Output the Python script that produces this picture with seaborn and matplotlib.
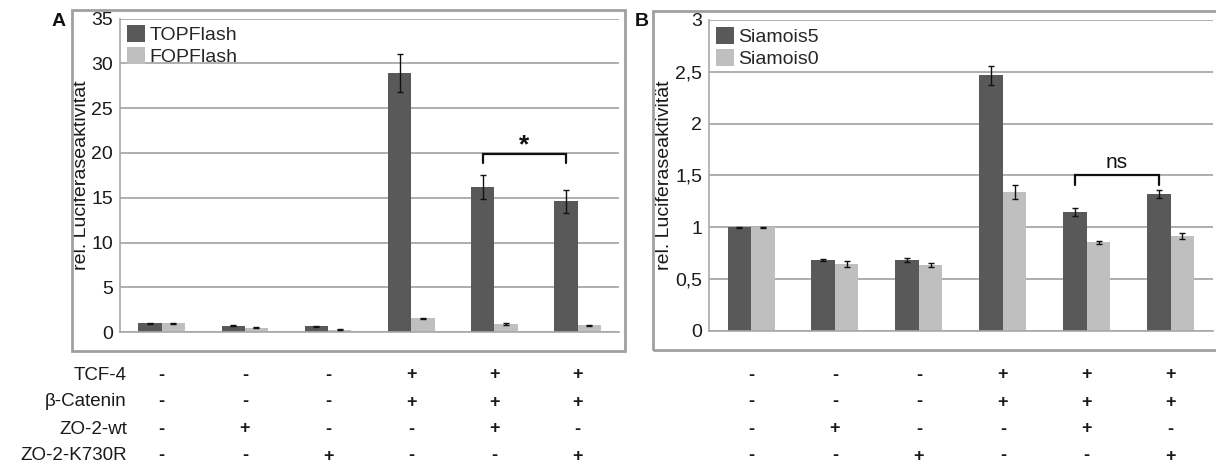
import matplotlib
matplotlib.use("Agg")
import matplotlib.pyplot as plt
import seaborn as sns
import pandas as pd
from matplotlib.patches import Rectangle
from matplotlib import transforms

# ---------------- data ----------------
conditions = ["K", "wt", "K730R", "TCF4+bCat", "TCF4+bCat+wt", "TCF4+bCat+K730R"]

series_a = ["TOPFlash", "FOPFlash"]
top_vals = [1.0, 0.74, 0.67, 28.9, 16.2, 14.6]
top_err = [0.05, 0.08, 0.07, 2.1, 1.35, 1.25]
fop_vals = [1.0, 0.51, 0.29, 1.56, 0.93, 0.78]
fop_err = [0.04, 0.04, 0.04, 0.08, 0.08, 0.06]

series_b = ["Siamois5", "Siamois0"]
s5_vals = [1.0, 0.685, 0.685, 2.465, 1.146, 1.32]
s5_err = [0.003, 0.01, 0.02, 0.09, 0.037, 0.037]
s0_vals = [1.0, 0.647, 0.637, 1.339, 0.856, 0.914]
s0_err = [0.003, 0.025, 0.02, 0.07, 0.013, 0.03]

yticks_a = [0, 5, 10, 15, 20, 25, 30, 35]
yticklabels_a = ["0", "5", "10", "15", "20", "25", "30", "35"]
yticks_b = [0, 0.5, 1, 1.5, 2, 2.5, 3]
yticklabels_b = ["0", "0,5", "1", "1,5", "2", "2,5", "3"]

row_labels = ["TCF-4", "β-Catenin", "ZO-2-wt", "ZO-2-K730R"]
row_marks = [
    ["-", "-", "-", "+", "+", "+"],
    ["-", "-", "-", "+", "+", "+"],
    ["-", "+", "-", "-", "+", "-"],
    ["-", "-", "+", "-", "-", "+"],
]
ylabel = "rel. Luciferaseaktivität"

# ---------------- style ----------------
sns.set_style("white")
plt.rcParams['font.family'] = ['Liberation Sans', 'DejaVu Sans']

DARK = "#595959"
LIGHT = "#bfbfbf"
GRID = "#a8a8a8"
TXT = "#1a1a1a"

fig = plt.figure(figsize=(12.16, 4.66), dpi=100)
ax_a = fig.add_axes([0.0987, 0.2869, 0.4106, 0.6734])
ax_b = fig.add_axes([0.5831, 0.2897, 0.4142, 0.6674])


def panel(ax, names, v1, v2, e1, e2, ymax, yt, ytl, label_x):
    df = pd.DataFrame({
        "cond": conditions * 2,
        "series": [names[0]] * len(conditions) + [names[1]] * len(conditions),
        "val": v1 + v2,
    })
    sns.barplot(data=df, x="cond", y="val", hue="series", order=conditions,
                hue_order=names, palette=[DARK, LIGHT], width=0.56, gap=0,
                errorbar=None, saturation=1, linewidth=0, ax=ax)
    conts = list(ax.containers)
    centers = []
    for cont, err in zip(conts, [e1, e2]):
        xs = [b.get_x() + b.get_width() / 2 for b in cont]
        ys = [b.get_height() for b in cont]
        centers.append(xs)
        ax.errorbar(xs, ys, yerr=err, fmt="none", ecolor="#111111",
                    elinewidth=1.0, capsize=2, capthick=1.0, zorder=4)
    ax.set_xlim(-0.5, len(conditions) - 0.5)
    ax.set_ylim(0, ymax)
    ax.set_yticks(yt)
    ax.set_yticklabels(ytl, fontsize=14, color=TXT)
    ax.set_xticks([i + 0.5 for i in range(-1, len(conditions))])
    ax.set_xticklabels([])
    ax.set_xlabel("")
    ax.set_ylabel(ylabel, fontsize=14, color=TXT)
    ax.yaxis.set_label_coords(label_x, 0.5)
    ax.tick_params(axis="y", length=4, width=1, color=GRID, pad=1)
    ax.tick_params(axis="x", length=4, width=1, color=GRID, direction="out")
    ax.yaxis.grid(True, color=GRID, lw=1.3)
    ax.set_axisbelow(True)
    for s in ["top", "right"]:
        ax.spines[s].set_visible(False)
    for s in ["left", "bottom"]:
        ax.spines[s].set_color(GRID)
        ax.spines[s].set_linewidth(1.2)
    handles, labels = ax.get_legend_handles_labels()
    if ax.get_legend() is not None:
        ax.get_legend().remove()
    ax.legend(handles, labels, loc="upper left", frameon=False, fontsize=14,
              handlelength=0.95, handleheight=0.95, handletextpad=0.2,
              labelspacing=0.15, borderaxespad=0.0, borderpad=0.35)
    return centers


cen_a = panel(ax_a, series_a, top_vals, fop_vals, top_err, fop_err, 35,
              yticks_a, yticklabels_a, (90 - 120) / 499.3)
cen_b = panel(ax_b, series_b, s5_vals, s0_vals, s5_err, s0_err, 3,
              yticks_b, yticklabels_b, (673 - 709) / 503.7)

# significance brackets
xa0, xa1 = cen_a[0][4], cen_a[0][5]
ax_a.plot([xa0, xa0, xa1, xa1], [18.9, 19.9, 19.9, 18.9], color="#111111",
          lw=1.6, solid_joinstyle="miter", zorder=5)
ax_a.text((xa0 + xa1) / 2, 20.1, "*", ha="center", va="baseline",
          fontsize=19, fontweight="bold", color="#111111")

xb0, xb1 = cen_b[0][4], cen_b[0][5]
ax_b.plot([xb0, xb0, xb1, xb1], [1.41, 1.5, 1.5, 1.41], color="#111111",
          lw=1.6, solid_joinstyle="miter", zorder=5)
ax_b.text((xb0 + xb1) / 2, 1.57, "ns", ha="center", va="baseline",
          fontsize=15, color="#111111")

# panel frames
fig.add_artist(Rectangle((0.0592, 0.2474), 0.4548, 0.7311,
                         transform=fig.transFigure, fill=False,
                         ec="#a0a0a0", lw=2.0))
fig.add_artist(Rectangle((0.537, 0.249), 0.47, 0.7275,
                         transform=fig.transFigure, fill=False,
                         ec="#a0a0a0", lw=2.0))

# panel letters
fig.text(59 / 1216, 1 - 21 / 466, "A", ha="center", va="center",
         fontsize=14, fontweight="bold", color="#111111")
fig.text(642 / 1216, 1 - 21 / 466, "B", ha="center", va="center",
         fontsize=14, fontweight="bold", color="#111111")

# condition table
row_y_px = [375, 402, 429, 456]
for lab, marks, ypx in zip(row_labels, row_marks, row_y_px):
    yf = 1 - ypx / 466
    fig.text(127 / 1216, yf, lab, ha="right", va="center", fontsize=13.5,
             color=TXT)
    for ax in (ax_a, ax_b):
        tr = transforms.blended_transform_factory(ax.transData, fig.transFigure)
        for i, m in enumerate(marks):
            ax.text(i, yf, m, transform=tr, ha="center", va="center",
                    fontsize=13, fontweight="bold", color=TXT, clip_on=False)

fig.savefig("out.png", dpi=100)
